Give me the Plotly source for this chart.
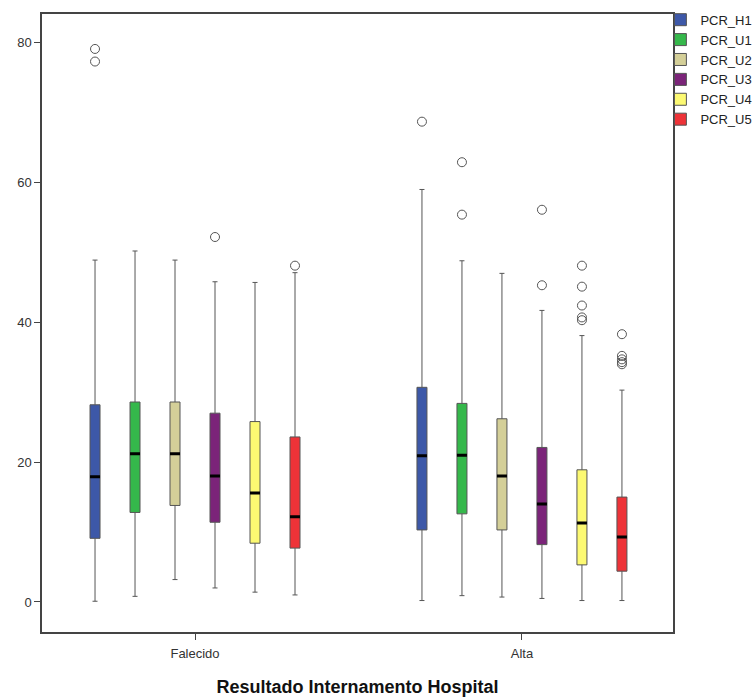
import plotly.graph_objects as go

categories = ["Falecido", "Alta"]
series = ["PCR_H1", "PCR_U1", "PCR_U2", "PCR_U3", "PCR_U4", "PCR_U5"]
colors = ["#3D58A8", "#35B84B", "#D4CF98", "#7B2479", "#FCF972", "#EE3338"]

# per series: [Falecido, Alta]
lower_fence = [[0.1, 0.2], [0.8, 0.9], [3.2, 0.7], [2.0, 0.5], [1.4, 0.2], [1.0, 0.2]]
q1 = [[9.1, 10.3], [12.8, 12.6], [13.8, 10.3], [11.4, 8.2], [8.4, 5.3], [7.7, 4.4]]
median = [[17.9, 20.9], [21.2, 21.0], [21.2, 18.0], [18.0, 14.0], [15.6, 11.3], [12.2, 9.3]]
q3 = [[28.2, 30.7], [28.6, 28.4], [28.6, 26.2], [27.0, 22.1], [25.8, 18.9], [23.6, 15.0]]
upper_fence = [[48.9, 59.0], [50.2, 48.8], [48.9, 47.0], [45.8, 41.7], [45.7, 38.1], [47.1, 30.3]]
outliers = [
    [[79.1, 77.3], [68.7]],
    [[], [62.9, 55.4]],
    [[], []],
    [[52.2], [56.1, 45.3]],
    [[], [48.1, 45.1, 42.4, 40.7, 40.3]],
    [[48.1], [38.3, 35.2, 34.7, 34.3, 34.0]],
]

y_ticks = [0, 20, 40, 60, 80]

FONT = "Liberation Sans, Arial, sans-serif"

fig = go.Figure()
for i, s in enumerate(series):
    pts = [vals if vals else [None] for vals in outliers[i]]
    fig.add_trace(go.Box(
        name=s, x=categories,
        q1=q1[i], median=median[i], q3=q3[i],
        lowerfence=lower_fence[i], upperfence=upper_fence[i],
        y=pts, boxpoints="outliers", pointpos=0, jitter=0,
        fillcolor=colors[i],
        line=dict(color="#555555", width=1),
        marker=dict(symbol="circle-open", size=9, color="#555555",
                    line=dict(width=1, color="#555555")),
        whiskerwidth=0.5, offsetgroup=s, legendgroup=s,
        hoverinfo="skip",
    ))
for i, s in enumerate(series):
    fig.add_trace(go.Box(
        name=s, x=categories,
        q1=median[i], median=median[i], q3=median[i],
        lowerfence=median[i], upperfence=median[i],
        boxpoints=False, fillcolor="rgba(0,0,0,0)",
        line=dict(color="#000000", width=3), whiskerwidth=0,
        offsetgroup=s, legendgroup=s, showlegend=False, hoverinfo="skip",
    ))

fig.update_layout(
    width=755, height=700,
    margin=dict(l=42, r=82, t=14, b=68, autoexpand=False),
    paper_bgcolor="white", plot_bgcolor="white",
    boxmode="group", boxgap=0.266, boxgroupgap=0.75,
    font=dict(family=FONT, size=13, color="#333333"),
    legend=dict(x=0.98, xanchor="left", y=1.015, yanchor="top",
                font=dict(family=FONT, size=13, color="#222222"),
                tracegroupgap=0, itemwidth=30, bgcolor="rgba(0,0,0,0)"),
    xaxis=dict(
        type="category", range=[-0.468, 1.462],
        showgrid=False, zeroline=False,
        showline=True, linecolor="#444444", linewidth=1.5, mirror=True,
        ticks="outside", ticklen=6, tickcolor="#444444", ticklabelstandoff=3,
        tickfont=dict(family=FONT, size=13, color="#333333"),
        title=dict(text="<b>Resultado Internamento Hospital</b>",
                   font=dict(family=FONT, size=18, color="#111111"), standoff=20),
    ),
    yaxis=dict(
        range=[-4.3, 84.1], tickvals=y_ticks,
        showgrid=False, zeroline=False,
        showline=True, linecolor="#444444", linewidth=1.5, mirror=True,
        ticks="outside", ticklen=6, tickcolor="#444444",
        tickfont=dict(family=FONT, size=13, color="#333333"),
    ),
)

fig.write_html("out.html")
